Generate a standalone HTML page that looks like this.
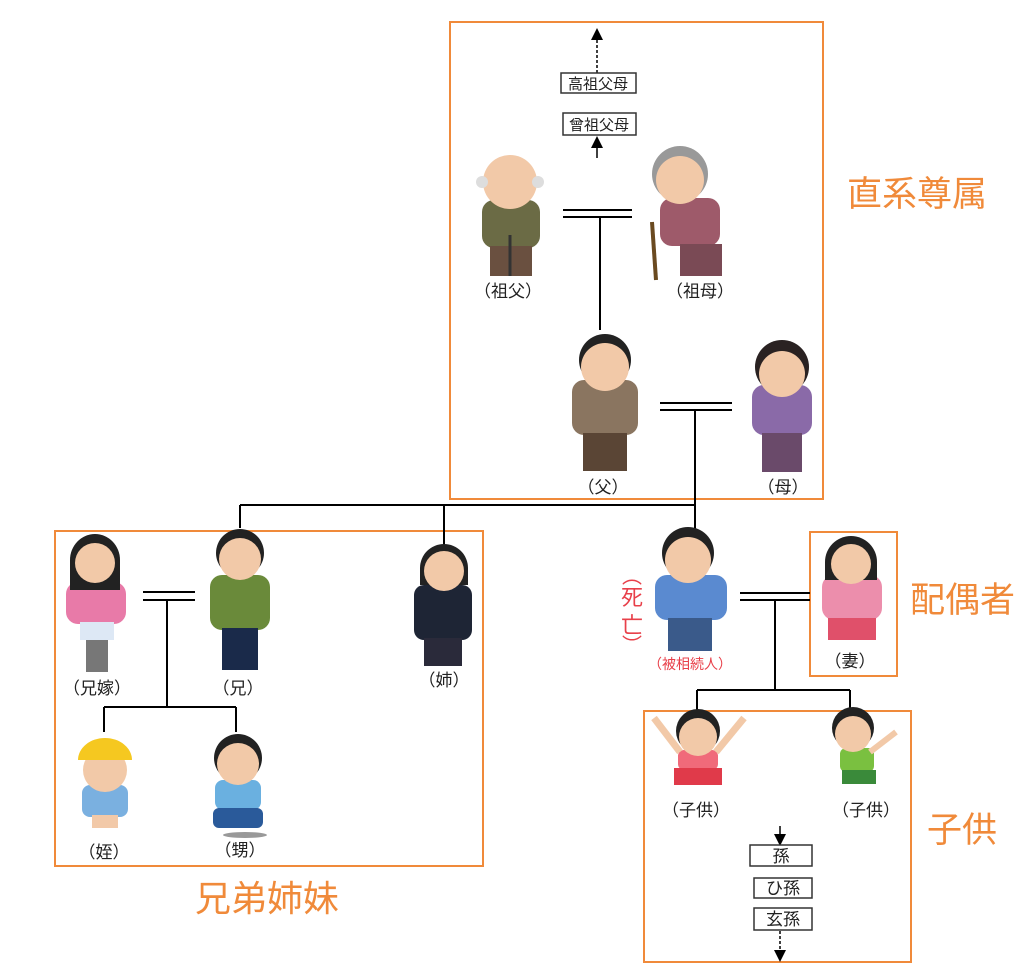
<!DOCTYPE html>
<html><head><meta charset="utf-8"><style>
html,body{margin:0;padding:0;background:#fff;width:1024px;height:979px;overflow:hidden}
svg{display:block}
text{font-family:"Liberation Sans","Noto Sans CJK JP",sans-serif}
</style></head><body>
<svg width="1024" height="979" viewBox="0 0 1024 979" xmlns="http://www.w3.org/2000/svg">
<defs>
<marker id="ah" markerWidth="8" markerHeight="8" refX="4" refY="4" orient="auto"><path d="M0,0 L8,4 L0,8 Z" fill="#000"/></marker>
</defs>
<g fill="none" stroke="#f08a3a" stroke-width="2">
<rect x="450" y="22" width="373" height="477"/>
<rect x="55" y="531" width="428" height="335"/>
<rect x="810" y="532" width="87" height="144"/>
<rect x="644" y="711" width="267" height="251"/>
</g>
<g stroke="#000" stroke-width="2" fill="none">
<line x1="563" y1="210" x2="632" y2="210"/><line x1="563" y1="217" x2="632" y2="217"/>
<line x1="600" y1="217" x2="600" y2="330"/>
<line x1="660" y1="403" x2="732" y2="403"/><line x1="660" y1="410" x2="732" y2="410"/>
<line x1="695" y1="410" x2="695" y2="530"/>
<line x1="240" y1="505" x2="695" y2="505"/>
<line x1="240" y1="505" x2="240" y2="528"/>
<line x1="444" y1="505" x2="444" y2="545"/>
<line x1="143" y1="592" x2="195" y2="592"/><line x1="143" y1="600" x2="195" y2="600"/>
<line x1="167" y1="600" x2="167" y2="707"/>
<line x1="104" y1="707" x2="236" y2="707"/>
<line x1="104" y1="707" x2="104" y2="732"/><line x1="236" y1="707" x2="236" y2="732"/>
<line x1="740" y1="593" x2="810" y2="593"/><line x1="740" y1="600" x2="810" y2="600"/>
<line x1="775" y1="600" x2="775" y2="690"/>
<line x1="697" y1="690" x2="850" y2="690"/>
<line x1="697" y1="690" x2="697" y2="712"/><line x1="850" y1="690" x2="850" y2="712"/>
</g>
<g stroke="#000" stroke-width="1.5" fill="none">
<line x1="597" y1="73" x2="597" y2="34" stroke-dasharray="3,2" marker-end="url(#ah)"/>
<line x1="597" y1="158" x2="597" y2="142" marker-end="url(#ah)"/>
<line x1="780" y1="826" x2="780" y2="840" marker-end="url(#ah)"/>
<line x1="780" y1="931" x2="780" y2="956" stroke-dasharray="3,2" marker-end="url(#ah)"/>
</g>
<g fill="#fff" stroke="#333" stroke-width="1.5">
<rect x="561" y="73" width="75" height="20"/><rect x="563" y="113" width="73" height="22"/>
<rect x="750" y="845" width="62" height="21"/><rect x="754" y="878" width="58" height="20"/><rect x="754" y="908" width="58" height="22"/>
</g>
<g font-size="15" fill="#222" text-anchor="middle">
<text x="598" y="89">高祖父母</text><text x="599" y="130">曾祖父母</text>
<text x="781" y="862" font-size="17">孫</text><text x="783" y="894" font-size="17">ひ孫</text><text x="783" y="925" font-size="17">玄孫</text>
</g>
<g>
<!-- 祖父 -->
<rect x="482" y="200" width="58" height="48" rx="12" fill="#6b6b45"/><rect x="490" y="246" width="42" height="30" fill="#6a5040"/>
<circle cx="510" cy="182" r="27" fill="#f2c9a8"/><circle cx="482" cy="182" r="6" fill="#ddd"/><circle cx="538" cy="182" r="6" fill="#ddd"/>
<line x1="510" y1="235" x2="510" y2="276" stroke="#333" stroke-width="3"/>
<!-- 祖母 -->
<rect x="660" y="198" width="60" height="48" rx="12" fill="#9e5a6a"/><rect x="680" y="244" width="42" height="32" fill="#7a4a55"/>
<circle cx="680" cy="174" r="28" fill="#999"/>
<circle cx="680" cy="180" r="24" fill="#f2c9a8"/>
<line x1="652" y1="222" x2="656" y2="280" stroke="#6a4a20" stroke-width="4"/>
<!-- 父 -->
<rect x="572" y="380" width="66" height="55" rx="12" fill="#8a7560"/><rect x="583" y="433" width="44" height="38" fill="#5a4535"/>
<circle cx="605" cy="360" r="26" fill="#222"/><circle cx="605" cy="367" r="24" fill="#f2c9a8"/>
<!-- 母 -->
<rect x="752" y="385" width="60" height="50" rx="12" fill="#8a6aa8"/><rect x="762" y="433" width="40" height="39" fill="#6a4a6a"/>
<circle cx="782" cy="367" r="27" fill="#2a2222"/><circle cx="782" cy="374" r="23" fill="#f2c9a8"/>
<!-- 兄嫁 -->
<rect x="66" y="582" width="60" height="42" rx="12" fill="#e87aa8"/><rect x="80" y="622" width="34" height="18" fill="#dde8f5"/><rect x="86" y="640" width="22" height="32" fill="#777"/>
<path d="M70,590 L70,560 A25,26 0 0 1 120,560 L120,590 Z" fill="#222"/>
<circle cx="95" cy="563" r="20" fill="#f2c9a8"/>
<!-- 兄 -->
<rect x="210" y="575" width="60" height="55" rx="12" fill="#6a8a3a"/><rect x="222" y="628" width="36" height="42" fill="#1a2a4a"/>
<circle cx="240" cy="553" r="24" fill="#222"/><circle cx="240" cy="559" r="21" fill="#f2c9a8"/>
<!-- 姉 -->
<rect x="414" y="585" width="58" height="55" rx="10" fill="#1e2535"/><rect x="424" y="638" width="38" height="28" fill="#2a2a3a"/>
<path d="M420,585 L420,568 A24,24 0 0 1 468,568 L468,585 Z" fill="#222"/>
<circle cx="444" cy="571" r="20" fill="#f2c9a8"/>
<!-- 姪 -->
<rect x="82" y="785" width="46" height="32" rx="8" fill="#7ab0e0"/><rect x="92" y="815" width="26" height="13" fill="#f2c9a8"/>
<circle cx="105" cy="770" r="22" fill="#f2c9a8"/><path d="M78,760 A27,22 0 0 1 132,760 Z" fill="#f5c820"/>
<!-- 甥 -->
<rect x="215" y="780" width="46" height="30" rx="8" fill="#6ab0e0"/><rect x="213" y="808" width="50" height="20" rx="6" fill="#2a5a9a"/>
<circle cx="238" cy="758" r="24" fill="#222"/><circle cx="238" cy="764" r="21" fill="#f2c9a8"/>
<ellipse cx="245" cy="835" rx="22" ry="3" fill="#999"/>
<!-- 被相続人 -->
<rect x="655" y="575" width="72" height="45" rx="12" fill="#5a8ad0"/><rect x="668" y="618" width="44" height="33" fill="#3a5a8a"/>
<circle cx="688" cy="553" r="26" fill="#222"/><circle cx="688" cy="560" r="23" fill="#f2c9a8"/>
<!-- 妻 -->
<rect x="822" y="575" width="60" height="45" rx="12" fill="#ec8eac"/><rect x="828" y="618" width="48" height="22" fill="#e0506a"/>
<path d="M825,580 L825,562 A26,26 0 0 1 877,562 L877,580 Z" fill="#222"/>
<circle cx="851" cy="564" r="20" fill="#f2c9a8"/>
<!-- 子供1 -->
<rect x="678" y="750" width="40" height="20" rx="6" fill="#f06a7a"/><rect x="674" y="768" width="48" height="17" fill="#e03a4a"/>
<line x1="680" y1="752" x2="654" y2="718" stroke="#f2c9a8" stroke-width="7"/><line x1="716" y1="752" x2="744" y2="718" stroke="#f2c9a8" stroke-width="7"/>
<circle cx="698" cy="731" r="22" fill="#222"/><circle cx="698" cy="737" r="19" fill="#f2c9a8"/>
<!-- 子供2 -->
<rect x="840" y="748" width="34" height="24" rx="6" fill="#7ac040"/><rect x="842" y="770" width="34" height="14" fill="#3a8a3a"/>
<line x1="870" y1="752" x2="896" y2="732" stroke="#f2c9a8" stroke-width="6"/>
<circle cx="853" cy="728" r="21" fill="#222"/><circle cx="853" cy="734" r="18" fill="#f2c9a8"/>
</g>
<g font-size="17" fill="#222" text-anchor="middle">
<text x="508" y="297">（祖父）</text><text x="700" y="297">（祖母）</text>
<text x="603" y="493">（父）</text><text x="783" y="493">（母）</text>
<text x="97" y="694">（兄嫁）</text><text x="238" y="694">（兄）</text><text x="444" y="686">（姉）</text>
<text x="104" y="858">（姪）</text><text x="240" y="856">（甥）</text>
<text x="850" y="667">（妻）</text><text x="696" y="816">（子供）</text><text x="866" y="816">（子供）</text>
</g>
<g fill="#e8404a" text-anchor="middle">
<text x="690" y="669" font-size="14">（被相続人）</text>
<text x="632" y="583" font-size="20">︵</text>
<text x="632" y="605" font-size="22">死</text>
<text x="632" y="633" font-size="22">亡</text>
<text x="632" y="652" font-size="20">︶</text>
</g>
<g fill="#f08a3a" font-size="35">
<text x="847" y="206">直系尊属</text>
<text x="910" y="612">配偶者</text>
<text x="927" y="842">子供</text>
<text x="195" y="911" font-size="36">兄弟姉妹</text>
</g>
</svg>
</body></html>
